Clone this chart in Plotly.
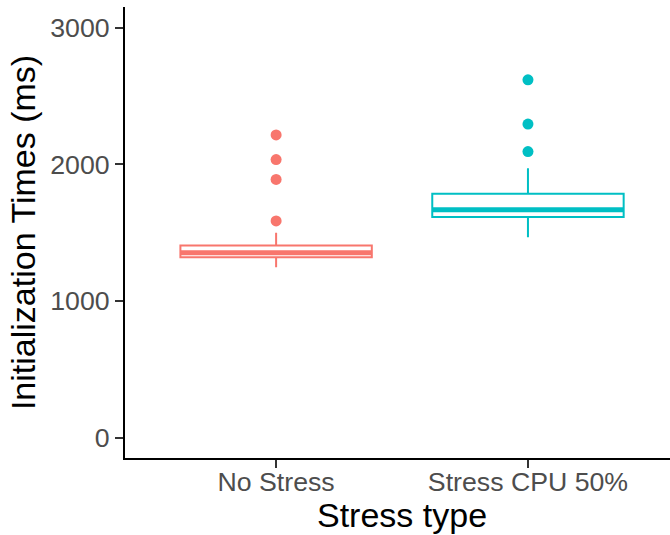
import plotly.graph_objects as go

# Box-plot summary statistics for initialization times (ms)
categories = ["No Stress", "Stress CPU 50%"]
colors = ["#F8766D", "#00BFC4"]
lower_whisker = [1245, 1466]
q1 = [1318, 1613]
median = [1352, 1667]
q3 = [1405, 1783]
upper_whisker = [1498, 1970]
outliers = [
    [1585, 1888, 2034, 2214],
    [2092, 2293, 2617],
]

y_ticks = [0, 1000, 2000, 3000]
box_width = 0.76

fig = go.Figure()

for i, name in enumerate(categories):
    pos = i + 1
    fig.add_trace(go.Box(
        x=[pos],
        q1=[q1[i]], median=[median[i]], q3=[q3[i]],
        lowerfence=[lower_whisker[i]], upperfence=[upper_whisker[i]],
        width=box_width,
        whiskerwidth=0,
        boxpoints=False,
        fillcolor="white",
        line=dict(color=colors[i], width=2),
        hoverinfo="skip",
        showlegend=False,
    ))
    # thicker median bar, as in ggplot's fatten
    fig.add_trace(go.Scatter(
        x=[pos - box_width / 2, pos + box_width / 2],
        y=[median[i], median[i]],
        mode="lines",
        line=dict(color=colors[i], width=5),
        hoverinfo="skip",
        showlegend=False,
    ))
    fig.add_trace(go.Scatter(
        x=[pos] * len(outliers[i]),
        y=outliers[i],
        mode="markers",
        marker=dict(color=colors[i], size=11),
        hoverinfo="skip",
        showlegend=False,
    ))

font_family = "Liberation Sans, Arial, sans-serif"
axis_font = dict(family=font_family, size=26.7, color="#4D4D4D")
title_font = dict(family=font_family, size=34, color="black")

fig.update_layout(
    width=670, height=535,
    margin=dict(l=125, r=0, t=7, b=77),
    paper_bgcolor="white",
    plot_bgcolor="white",
    xaxis=dict(
        range=[0.4, 2.564],
        tickvals=[1, 2],
        ticktext=categories,
        showgrid=False, zeroline=False,
        showline=True, linecolor="black", linewidth=2,
        ticks="outside", ticklen=8, tickwidth=2, tickcolor="#333333",
        tickfont=axis_font,
        ticklabelstandoff=-9,
    ),
    yaxis=dict(
        range=[-150, 3150],
        tickvals=y_ticks,
        showgrid=False, zeroline=False,
        showline=True, linecolor="black", linewidth=2,
        ticks="outside", ticklen=8, tickwidth=2, tickcolor="#333333",
        tickfont=axis_font,
        title=dict(text="Initialization Times (ms)", font=title_font, standoff=4),
    ),
    annotations=[dict(
        text="Stress type",
        xref="x", x=1.5,
        yref="paper", y=0, yanchor="top", yshift=-36,
        showarrow=False,
        font=title_font,
    )],
)

fig.write_html("out.html")
